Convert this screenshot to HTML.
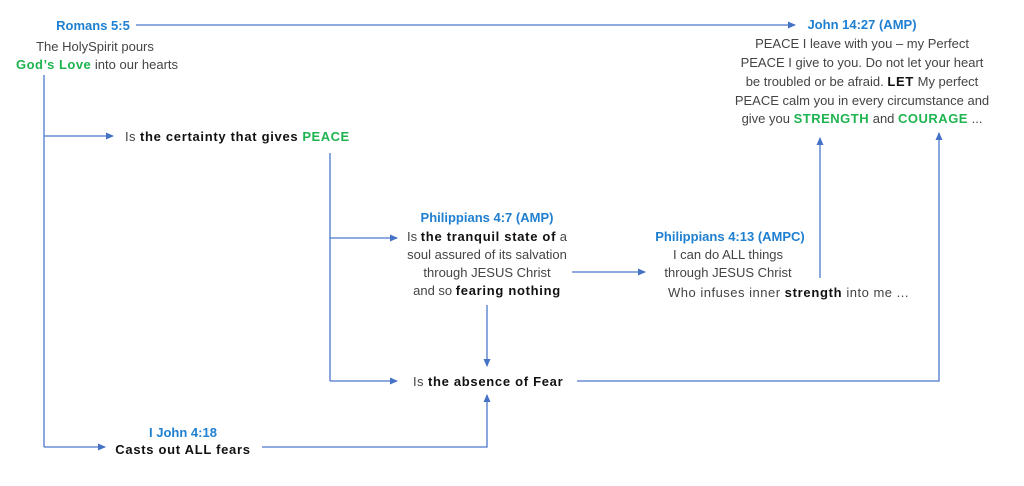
<!DOCTYPE html>
<html><head><meta charset="utf-8"><style>
html,body{margin:0;padding:0;background:#fff;}
svg{display:block}
text{font-family:"Liberation Sans",sans-serif;font-size:13px;fill:#444;}
.b{fill:#1f7fd0;font-weight:bold;}
.g{fill:#1fb450;font-weight:bold;letter-spacing:0.5px;}
.k{fill:#111;font-weight:bold;letter-spacing:0.7px;}
</style></head><body>
<svg width="1024" height="486" viewBox="0 0 1024 486" xmlns="http://www.w3.org/2000/svg">
<defs><marker id="a" markerWidth="8" markerHeight="8" refX="7" refY="4" orient="auto" markerUnits="userSpaceOnUse"><path d="M0,0.5 L8,4 L0,7.5z" fill="#4472C4"/></marker></defs>
<g stroke="#4a78cc" stroke-width="1.3" fill="none">
<path d="M136,25 H795" marker-end="url(#a)"/>
<path d="M44,75 V447"/>
<path d="M44,136 H113" marker-end="url(#a)"/>
<path d="M44,447 H105" marker-end="url(#a)"/>
<path d="M330,153 V381"/>
<path d="M330,238 H397" marker-end="url(#a)"/>
<path d="M330,381 H397" marker-end="url(#a)"/>
<path d="M572,272 H645" marker-end="url(#a)"/>
<path d="M487,305 V366" marker-end="url(#a)"/>
<path d="M262,447 H487 V395" marker-end="url(#a)"/>
<path d="M577,381 H939 V133" marker-end="url(#a)"/>
<path d="M820,278 V138" marker-end="url(#a)"/>
</g>
<g text-anchor="middle">
<text x="93" y="30" class="b">Romans 5:5</text>
<text x="95" y="51">The HolySpirit pours</text>
<text x="97" y="69"><tspan class="g">God’s Love</tspan> into our hearts</text>

<text x="862" y="29" class="b">John 14:27 (AMP)</text>
<text x="862" y="48">PEACE I leave with you – my Perfect</text>
<text x="862" y="67">PEACE I give to you. Do not let your heart</text>
<text x="862" y="86">be troubled or be afraid. <tspan class="k">LET</tspan> My perfect</text>
<text x="862" y="105">PEACE calm you in every circumstance and</text>
<text x="862" y="123">give you <tspan class="g">STRENGTH</tspan> and <tspan class="g">COURAGE</tspan> ...</text>

<text x="487" y="222" class="b">Philippians 4:7 (AMP)</text>
<text x="487" y="241">Is <tspan class="k">the tranquil state of</tspan> a</text>
<text x="487" y="259">soul assured of its salvation</text>
<text x="487" y="277">through JESUS Christ</text>
<text x="487" y="295">and so <tspan class="k">fearing nothing</tspan></text>

<text x="730" y="241" class="b">Philippians 4:13 (AMPC)</text>
<text x="728" y="259">I can do ALL things</text>
<text x="728" y="277">through JESUS Christ</text>

<text x="183" y="437" class="b">I John 4:18</text>
<text x="183" y="454" class="k">Casts out ALL fears</text>
</g>
<text x="125" y="141" letter-spacing="0.4">Is <tspan class="k">the certainty that gives</tspan> <tspan class="g">PEACE</tspan></text>
<text x="668" y="297" letter-spacing="0.5">Who infuses inner <tspan class="k">strength</tspan> into me ...</text>
<text x="413" y="386" letter-spacing="0.4">Is <tspan class="k">the absence of Fear</tspan></text>
</svg>
</body></html>
